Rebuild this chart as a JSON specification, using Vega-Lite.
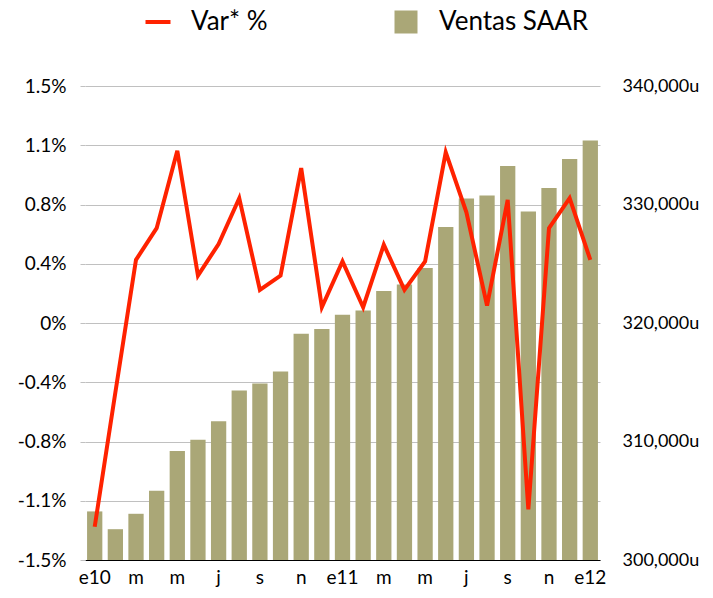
{
  "$schema": "https://vega.github.io/schema/vega-lite/v6.json",
  "width": 515,
  "height": 474,
  "autosize": {"type": "none"},
  "padding": {"left": 85, "top": 86, "right": 113, "bottom": 38},
  "background": "white",
  "config": {
    "view": {"stroke": null},
    "font": "Lato",
    "axis": {"labelFont": "Lato", "labelColor": "#000000", "title": null}
  },
  "data": {
    "values": [
      {"mes": "2010-01", "var": -1.29, "ventas": 304100},
      {"mes": "2010-02", "var": -0.44, "ventas": 302600},
      {"mes": "2010-03", "var": 0.40, "ventas": 303900},
      {"mes": "2010-04", "var": 0.60, "ventas": 305850},
      {"mes": "2010-05", "var": 1.09, "ventas": 309200},
      {"mes": "2010-06", "var": 0.30, "ventas": 310150},
      {"mes": "2010-07", "var": 0.50, "ventas": 311700},
      {"mes": "2010-08", "var": 0.79, "ventas": 314300},
      {"mes": "2010-09", "var": 0.21, "ventas": 314900},
      {"mes": "2010-10", "var": 0.30, "ventas": 315900},
      {"mes": "2010-11", "var": 0.98, "ventas": 319100},
      {"mes": "2010-12", "var": 0.10, "ventas": 319500},
      {"mes": "2011-01", "var": 0.39, "ventas": 320700},
      {"mes": "2011-02", "var": 0.10, "ventas": 321050},
      {"mes": "2011-03", "var": 0.495, "ventas": 322700},
      {"mes": "2011-04", "var": 0.21, "ventas": 323250},
      {"mes": "2011-05", "var": 0.39, "ventas": 324650},
      {"mes": "2011-06", "var": 1.08, "ventas": 328100},
      {"mes": "2011-07", "var": 0.70, "ventas": 330500},
      {"mes": "2011-08", "var": 0.11, "ventas": 330750},
      {"mes": "2011-09", "var": 0.78, "ventas": 333250},
      {"mes": "2011-10", "var": -1.18, "ventas": 329400},
      {"mes": "2011-11", "var": 0.60, "ventas": 331400},
      {"mes": "2011-12", "var": 0.79, "ventas": 333850},
      {"mes": "2012-01", "var": 0.40, "ventas": 335400}
    ]
  },
  "encoding": {
    "x": {
      "field": "mes",
      "type": "ordinal",
      "sort": null,
      "scale": {"paddingInner": 0.26, "paddingOuter": 0.1},
      "axis": {
        "labelAngle": 0,
        "ticks": false,
        "grid": false,
        "domain": true,
        "domainColor": "#000000",
        "domainWidth": 1,
        "labelFontSize": 19,
        "labelPadding": 8,
        "labelExpr": "slice(datum.value,5,7)=='01' ? 'e'+slice(datum.value,2,4) : (slice(datum.value,5,7)=='03' || slice(datum.value,5,7)=='05') ? 'm' : slice(datum.value,5,7)=='07' ? 'j' : slice(datum.value,5,7)=='09' ? 's' : slice(datum.value,5,7)=='11' ? 'n' : ''"
      }
    }
  },
  "layer": [
    {
      "mark": {"type": "bar", "clip": true},
      "encoding": {
        "y": {
          "field": "ventas",
          "type": "quantitative",
          "scale": {"domain": [300000, 340000], "zero": false, "nice": false},
          "axis": {
            "orient": "right",
            "values": [300000, 310000, 320000, 330000, 340000],
            "grid": false,
            "ticks": false,
            "domain": false,
            "labelPadding": 22,
            "labelFontSize": 18,
            "labelExpr": "format(datum.value, ',') + 'u'"
          }
        },
        "y2": {"datum": 300000},
        "color": {
          "datum": "Ventas SAAR",
          "scale": {"domain": ["Var* %", "Ventas SAAR"], "range": ["#ff2200", "#aaa777"]},
          "legend": {
            "orient": "none",
            "legendX": 60,
            "legendY": -77,
            "direction": "horizontal",
            "title": null,
            "labelFontSize": 26,
            "labelFont": "Lato",
            "labelColor": "#000000",
            "labelOffset": 20,
            "columnPadding": 125,
            "symbolSize": 529,
            "encode": {
              "symbols": {
                "update": {
                  "shape": {"signal": "datum.value === 'Var* %' ? 'stroke' : 'square'"},
                  "size": {"signal": "datum.value === 'Var* %' ? 625 : 529"},
                  "strokeWidth": {"signal": "datum.value === 'Var* %' ? 4 : 0"},
                  "fill": {"signal": "scale('color', datum.value)"},
                  "stroke": {"signal": "scale('color', datum.value)"},
                  "opacity": {"value": 1}
                }
              }
            }
          }
        }
      }
    },
    {
      "mark": {"type": "line", "strokeWidth": 4, "strokeJoin": "miter", "strokeCap": "butt"},
      "encoding": {
        "y": {
          "field": "var",
          "type": "quantitative",
          "scale": {"domain": [-1.5, 1.5], "nice": false},
          "axis": {
            "orient": "left",
            "values": [-1.5, -1.125, -0.75, -0.375, 0, 0.375, 0.75, 1.125, 1.5],
            "grid": true,
            "gridColor": "#c0c0c0",
            "gridWidth": 1,
            "ticks": true,
            "tickColor": "#c0c0c0",
            "tickSize": 5,
            "domain": false,
            "labelPadding": 14,
            "labelFontSize": 19,
            "labelExpr": "datum.value == 0 ? '0%' : (datum.value < 0 ? '-' : '') + format(abs(datum.value), '.1f') + '%'"
          }
        },
        "color": {"datum": "Var* %"}
      }
    }
  ],
  "resolve": {"scale": {"y": "independent"}}
}
